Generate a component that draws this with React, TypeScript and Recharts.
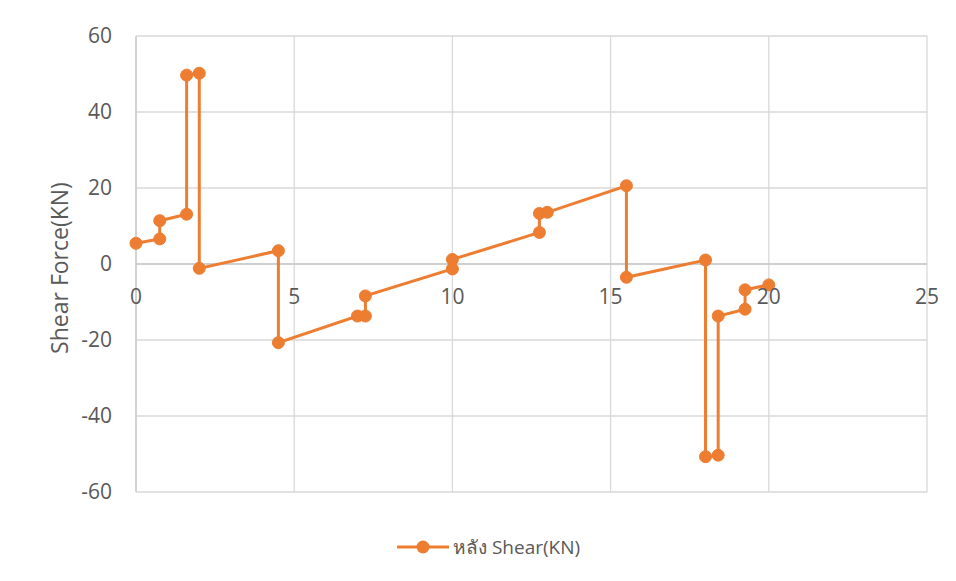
import React from 'react';
import {
  LineChart,
  Line,
  XAxis,
  YAxis,
  CartesianGrid,
  ReferenceLine
} from 'recharts';

// distance along the beam (m)
const positions = [
  0, 0.75, 0.75, 1.6, 1.6, 2, 2, 4.5, 4.5, 7, 7.25, 7.25, 10,
  10, 12.75, 12.75, 13, 15.5, 15.5, 18, 18, 18.4, 18.4, 19.25, 19.25, 20,
];

// shear force values (KN)
const shear = [
  5.45, 6.6, 11.4, 13.1, 49.7, 50.2, -1.15, 3.5, -20.7, -13.7, -13.7, -8.4, -1.3,
  1.2, 8.3, 13.3, 13.6, 20.6, -3.5, 1.05, -50.7, -50.3, -13.7, -11.9, -6.8, -5.5,
];

const xTicks = [0, 5, 10, 15, 20, 25];
const yTicks = [-60, -40, -20, 0, 20, 40, 60];
const seriesName = 'หลัง Shear(KN)';

const data = positions.map((x, i) => ({ x, shear: shear[i] }));

const ORANGE = '#ED7D31';
const GRID = '#d9d9d9';
const TEXT = '#595959';
const FONT = '"Open Sans", "Noto Sans", sans-serif';

const WIDTH = 948;
const HEIGHT = 573;
const MARGIN = { top: 28, right: 29, bottom: 59, left: 0 };
const X_AXIS_H = 30;
const PLOT_H = HEIGHT - MARGIN.top - MARGIN.bottom - X_AXIS_H;
// horizontal axis crosses at y = 0 (middle of -60..60)
const ZERO_Y = MARGIN.top + PLOT_H / 2;

const XTick = ({ x, payload }: any) => (
  <text
    x={x}
    y={ZERO_Y + 32}
    textAnchor="middle"
    dominantBaseline="central"
    fill={TEXT}
    fontSize={21}
    fontFamily={FONT}
  >
    {payload.value}
  </text>
);

export default function App() {
  return (
    <div
      style={{
        position: 'relative',
        width: WIDTH,
        height: HEIGHT,
        marginLeft: -1,
        marginTop: -1,
        borderLeft: '1px solid #d0d0d0',
        borderTop: '1px solid #d0d0d0',
        fontFamily: FONT,
      }}
    >
      <LineChart width={WIDTH} height={HEIGHT} data={data} margin={MARGIN}>
        <CartesianGrid stroke={GRID} strokeWidth={1.3} />
        <XAxis
          dataKey="x"
          type="number"
          domain={[0, 25]}
          ticks={xTicks}
          axisLine={false}
          tickLine={false}
          height={X_AXIS_H}
          tick={(props: any) => <XTick {...props} />}
          interval={0}
        />
        <YAxis
          type="number"
          domain={[-60, 60]}
          ticks={yTicks}
          width={128}
          axisLine={{ stroke: '#c8c8c8', strokeWidth: 1.3 }}
          tickLine={false}
          tickSize={0}
          tickMargin={24}
          tick={{ fill: TEXT, fontSize: 21, fontFamily: FONT }}
          interval={0}
          label={{
            value: 'Shear Force(KN)',
            angle: -90,
            position: 'center',
            dx: -12,
            dy: 4,
            fill: TEXT,
            fontSize: 23,
            fontFamily: FONT,
          }}
        />
        <ReferenceLine y={0} stroke="#c8c8c8" strokeWidth={1.3} />
        <Line
          type="linear"
          dataKey="shear"
          name={seriesName}
          stroke={ORANGE}
          strokeWidth={3}
          dot={{ r: 6, fill: ORANGE, stroke: ORANGE, strokeWidth: 1 }}
          isAnimationActive={false}
        />
      </LineChart>
      <div
        style={{
          position: 'absolute',
          left: 387,
          top: 524,
          display: 'flex',
          alignItems: 'center',
          color: TEXT,
          fontSize: 19,
        }}
      >
        <svg width={56} height={28}>
          <line x1={2} y1={14} x2={54} y2={14} stroke={ORANGE} strokeWidth={3} />
          <circle cx={28} cy={14} r={6.5} fill={ORANGE} />
        </svg>
        <span style={{ marginLeft: 2 }}>{seriesName}</span>
      </div>
    </div>
  );
}
